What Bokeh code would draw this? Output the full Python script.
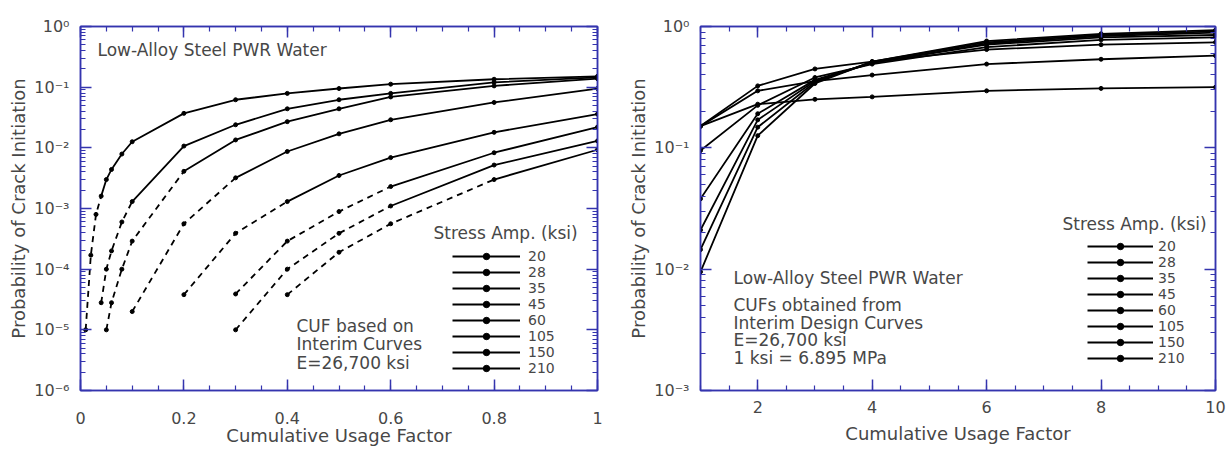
import numpy as np
from bokeh.plotting import figure
from bokeh.models import (FixedTicker, LinearAxis, LogAxis, Label, Legend, LegendItem,
                          CustomJSTickFormatter, Range1d)
from bokeh.layouts import row
from bokeh.embed import file_html
from bokeh.resources import INLINE

# ---------------- data ----------------
stress_amp = ["20", "28", "35", "45", "60", "105", "150", "210"]

# Left panel: CUF based on interim curves (CUF 0..1)
left_cuf = [
    [0.01, 0.02, 0.03, 0.04, 0.05, 0.06, 0.08, 0.1, 0.2, 0.3, 0.4, 0.5, 0.6, 0.8, 1.0],
    [0.04, 0.05, 0.06, 0.08, 0.1, 0.2, 0.3, 0.4, 0.5, 0.6, 0.8, 1.0],
    [0.05, 0.06, 0.08, 0.1, 0.2, 0.3, 0.4, 0.5, 0.6, 0.8, 1.0],
    [0.1, 0.2, 0.3, 0.4, 0.5, 0.6, 0.8, 1.0],
    [0.2, 0.3, 0.4, 0.5, 0.6, 0.8, 1.0],
    [0.3, 0.4, 0.5, 0.6, 0.8, 1.0],
    [0.3, 0.4, 0.5, 0.6, 0.8, 1.0],
    [0.4, 0.5, 0.6, 0.8, 1.0],
]
left_prob = [
    [1.0e-5, 1.7e-4, 8.0e-4, 1.6e-3, 3.0e-3, 4.4e-3, 7.9e-3, 1.26e-2, 3.7e-2, 6.2e-2, 7.9e-2, 9.5e-2, 0.112, 0.135, 0.151],
    [2.8e-5, 1.0e-4, 2.0e-4, 6.0e-4, 1.3e-3, 1.07e-2, 2.4e-2, 4.4e-2, 6.2e-2, 7.9e-2, 0.120, 0.145],
    [1.0e-5, 2.8e-5, 1.0e-4, 2.9e-4, 4.1e-3, 1.35e-2, 2.7e-2, 4.4e-2, 6.9e-2, 0.105, 0.138],
    [2.0e-5, 5.6e-4, 3.2e-3, 8.7e-3, 1.7e-2, 2.9e-2, 5.6e-2, 9.5e-2],
    [3.8e-5, 3.9e-4, 1.3e-3, 3.5e-3, 6.9e-3, 1.8e-2, 3.6e-2],
    [3.9e-5, 2.9e-4, 8.9e-4, 2.3e-3, 8.3e-3, 2.2e-2],
    [1.0e-5, 1.0e-4, 3.9e-4, 1.1e-3, 5.2e-3, 1.3e-2],
    [3.8e-5, 1.9e-4, 5.6e-4, 3.0e-3, 9.3e-3],
]
# CUF from which each left-panel curve is drawn solid (dashed below it)
left_solid_from = [0.04, 0.1, 0.2, 0.3, 0.4, 0.6, 0.6, 0.8]

# Right panel: CUFs obtained from interim design curves (CUF 1..10)
right_cuf = [1, 2, 3, 4, 6, 8, 10]
right_prob = [
    [0.151, 0.229, 0.251, 0.263, 0.295, 0.309, 0.316],
    [0.151, 0.295, 0.355, 0.398, 0.490, 0.537, 0.575],
    [0.151, 0.324, 0.447, 0.513, 0.646, 0.708, 0.741],
    [0.095, 0.224, 0.380, 0.490, 0.676, 0.776, 0.813],
    [0.038, 0.191, 0.363, 0.501, 0.708, 0.813, 0.851],
    [0.021, 0.170, 0.355, 0.501, 0.724, 0.832, 0.891],
    [0.0145, 0.148, 0.347, 0.513, 0.741, 0.851, 0.912],
    [0.0095, 0.126, 0.339, 0.513, 0.759, 0.871, 0.933],
]

left_x_ticks = [0, 0.2, 0.4, 0.6, 0.8, 1.0]
right_x_ticks = [2, 4, 6, 8, 10]
x_title = "Cumulative Usage Factor"
y_title = "Probability of Crack Initiation"

# ---------------- style ----------------
BLUE = "#3434ae"
TEXT = "#474747"
FONT = "DejaVu Sans"

SUP_JS = """
const sup = {"-":"\u207b","0":"\u2070","1":"\u00b9","2":"\u00b2","3":"\u00b3","4":"\u2074",
             "5":"\u2075","6":"\u2076","7":"\u2077","8":"\u2078","9":"\u2079"};
const e = Math.round(Math.log10(tick));
return "10" + String(e).split("").map(c => sup[c]).join("");
"""
BLANK_JS = 'return "";'


def log_ticker(lo, hi):
    majors = [10.0 ** e for e in range(lo, hi + 1)]
    minors = [m * 10.0 ** e for e in range(lo, hi) for m in range(2, 10)]
    return FixedTicker(ticks=majors, minor_ticks=minors)


def style_axis(ax, labels):
    ax.axis_line_color = BLUE
    ax.axis_line_width = 1.5
    ax.major_tick_line_color = BLUE
    ax.minor_tick_line_color = BLUE
    ax.major_tick_line_width = 1.5
    ax.minor_tick_line_width = 1.2
    ax.major_tick_in = 11
    ax.major_tick_out = 0
    ax.minor_tick_in = 5
    ax.minor_tick_out = 0
    if labels:
        ax.major_label_text_font = FONT
        ax.major_label_text_font_size = "16px"
        ax.major_label_text_color = TEXT
        ax.axis_label_text_font = FONT
        ax.axis_label_text_font_size = "18px"
        ax.axis_label_text_font_style = "normal"
        ax.axis_label_text_color = TEXT
    else:
        ax.formatter = CustomJSTickFormatter(code=BLANK_JS)
        ax.major_label_text_font_size = "8px"
        ax.major_label_standoff = 0


def add_text(p, lines, x, ys, size="17px", align="left"):
    for t, y in zip(lines, ys):
        p.add_layout(Label(x=x, y=y, x_units="screen", y_units="screen", text=t,
                           text_font=FONT, text_font_size=size, text_color=TEXT,
                           text_baseline="middle", text_align=align))


def make_panel(width, xr, yr, xticker, yticker, borders, tick_standoff, title_standoff):
    p = figure(width=width, height=453, x_range=Range1d(*xr), y_range=Range1d(*yr),
               y_axis_type="log", output_backend="svg", toolbar_location=None,
               min_border_left=borders[0], min_border_right=borders[1],
               min_border_top=borders[2], min_border_bottom=borders[3])
    p.xgrid.visible = False
    p.ygrid.visible = False
    p.outline_line_color = BLUE
    p.outline_line_width = 1.5
    p.background_fill_color = "white"
    p.border_fill_color = "white"
    p.xaxis.ticker = xticker
    p.yaxis.ticker = yticker
    p.yaxis.formatter = CustomJSTickFormatter(code=SUP_JS)
    p.xaxis.axis_label = x_title
    p.yaxis.axis_label = y_title
    style_axis(p.xaxis[0], True)
    style_axis(p.yaxis[0], True)
    p.xaxis.major_label_standoff = tick_standoff
    p.xaxis.axis_label_standoff = title_standoff
    p.yaxis.major_label_standoff = 11
    p.yaxis.axis_label_standoff = 2
    top = LinearAxis(ticker=xticker)
    style_axis(top, False)
    p.add_layout(top, "above")
    right = LogAxis(ticker=yticker)
    style_axis(right, False)
    p.add_layout(right, "right")
    return p


def add_legend(p, renderers, loc, glyph_width, standoff, title_pos):
    items = [LegendItem(label=s, renderers=r) for s, r in zip(stress_amp, renderers)]
    leg = Legend(items=items, location=loc, orientation="vertical",
                 glyph_width=glyph_width, glyph_height=16, label_height=16,
                 label_standoff=standoff, spacing=0, padding=0, margin=0,
                 border_line_alpha=0, background_fill_alpha=0,
                 label_text_font=FONT, label_text_font_size="14px",
                 label_text_color=TEXT)
    p.add_layout(leg)
    add_text(p, ["Stress Amp. (ksi)"], title_pos[0], [title_pos[1]], size="17px")


# ---------------- left panel ----------------
xt_left = FixedTicker(ticks=left_x_ticks,
                      minor_ticks=[round(v, 2) for v in np.arange(0, 1.0001, 0.05)])
p1 = make_panel(618, (0, 1), (1e-6, 1), xt_left, log_ticker(-6, 0), (80, 21, 26, 63), 21, -2)

left_legend_renderers = []
for xs, ps, s0 in zip(left_cuf, left_prob, left_solid_from):
    xs = np.array(xs)
    ps = np.array(ps)
    dm = xs <= s0 + 1e-9
    sm = xs >= s0 - 1e-9
    p1.line(xs[dm], ps[dm], line_color="black", line_width=1.8, line_dash="6 5")
    r_solid = p1.line(xs[sm], ps[sm], line_color="black", line_width=1.8)
    r_pts = p1.scatter(xs, ps, marker="circle", size=4, fill_color="black", line_color="black")
    left_legend_renderers.append([r_solid, r_pts])

add_text(p1, ["Low-Alloy Steel PWR Water"], 17, [341])
add_text(p1, ["CUF based on", "Interim  Curves", "E=26,700  ksi"], 216, [65, 47, 28])
add_legend(p1, left_legend_renderers, (372, 14), 68, 8, (353, 158))

# ---------------- right panel ----------------
xt_right = FixedTicker(ticks=right_x_ticks,
                       minor_ticks=[round(v, 1) for v in np.arange(1, 10.0001, 0.5)])
p2 = make_panel(612, (1, 10), (1e-3, 1), xt_right, log_ticker(-3, 0), (82, 15, 26, 63), 10, 7)

right_legend_renderers = []
for ps in right_prob:
    r_line = p2.line(right_cuf, ps, line_color="black", line_width=1.8)
    r_pts = p2.scatter(right_cuf, ps, marker="circle", size=4, fill_color="black", line_color="black")
    right_legend_renderers.append([r_line, r_pts])

add_text(p2, ["Low-Alloy Steel PWR Water"], 33, [113])
add_text(p2, ["CUFs obtained from", "Interim Design Curves", "E=26,700  ksi",
              "1 ksi = 6.895 MPa"], 33, [86, 68, 51, 33])
add_legend(p2, right_legend_renderers, (387, 24), 66, 5, (362, 167))

layout = row(p1, p2)
open("out.html", "w").write(file_html(layout, INLINE))
